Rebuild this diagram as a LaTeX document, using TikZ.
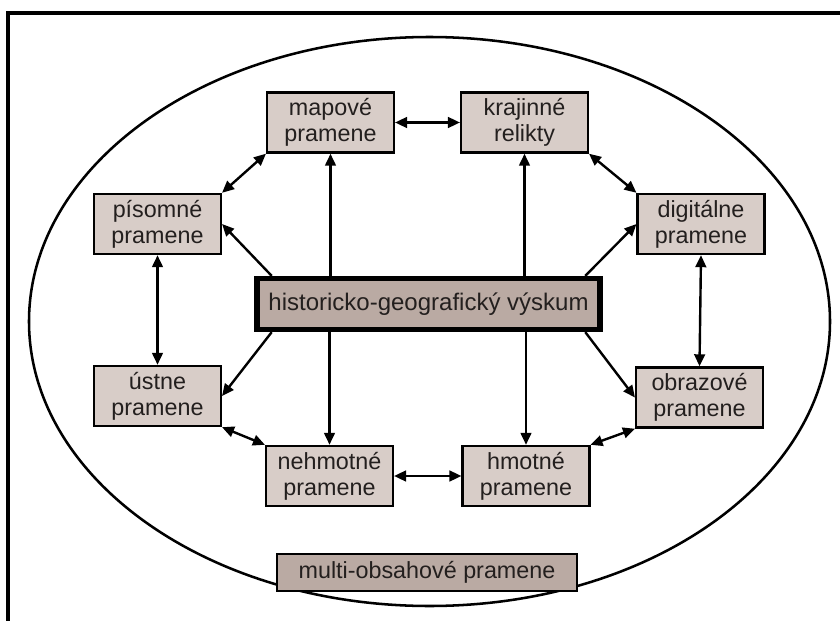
\documentclass[tikz,border=0pt]{standalone}
\usepackage{fontspec}
\setmainfont{Liberation Sans}
\usetikzlibrary{arrows.meta}

\definecolor{zdrojfill}{RGB}{216,205,200}
\definecolor{jadrofill}{RGB}{186,170,163}
\definecolor{textgray}{RGB}{35,31,30}

\tikzset{
  zdroj/.style={draw, line width=1.8pt, fill=zdrojfill, align=center,
    minimum width=95pt, minimum height=45pt, inner sep=0pt,
    font=\fontsize{17.5}{19.5}\selectfont, text=textgray},
  jadro/.style={draw, line width=4.2pt, fill=jadrofill,
    minimum width=257pt, minimum height=38pt, inner sep=0pt,
    font=\fontsize{18}{20}\selectfont, text=textgray},
  obal/.style={draw, line width=1.8pt, fill=jadrofill,
    minimum width=225pt, minimum height=28pt, inner sep=0pt,
    font=\fontsize{17.5}{19.5}\selectfont, text=textgray},
  sip/.style={line width=1.8pt, -{Triangle[length=9pt,width=8pt]}},
  dvojsip/.style={line width=1.8pt, {Triangle[length=9pt,width=8pt]}-{Triangle[length=9pt,width=8pt]}}
}

\begin{document}
\begin{tikzpicture}[x=0.75pt, y=-0.75pt]
        \useasboundingbox (0,0) rectangle (840,621);

        % Ramik a elipsa
        \draw[line width=2.6pt] (8,621) -- (8,13) -- (840,13);
        \draw[line width=1.9pt] (429.5,321.5) ellipse [x radius=400.5, y radius=284.5];

        % Stred
        \node[jadro] (hist) at (428.5,304) {historicko-geografický výskum};

        % Pramene okolo
        \node[zdroj] (map) at (330.5,122.5) {mapové\\pramene};
        \node[zdroj] (kraj) at (524.5,122.5) {krajinné\\relikty};
        \node[zdroj] (pis) at (157.5,224) {písomné\\pramene};
        \node[zdroj] (dig) at (701,224) {digitálne\\pramene};
        \node[zdroj] (ust) at (157.5,396) {ústne\\pramene};
        \node[zdroj] (obr) at (699.5,397.5) {obrazové\\pramene};
        \node[zdroj] (neh) at (329.5,476) {nehmotné\\pramene};
        \node[zdroj] (hmo) at (526,476) {hmotné\\pramene};

        % Spodny ramec
        \node[obal] (multi) at (427,572.5) {multi-obsahové pramene};

        % Sipky zo stredu
        \draw[sip] (hist.north -| map.south) -- (map.south);
        \draw[sip] (hist.north -| kraj.south) -- (kraj.south);
        \draw[sip] (hist.south -| neh.north) -- (neh.north);
        \draw[sip] (hist.south -| hmo.north) -- (hmo.north);
        \draw[sip] ([xshift=13pt]hist.north west) -- (pis.east);
        \draw[sip] ([xshift=-13pt]hist.north east) -- (dig.west);
        \draw[sip] ([xshift=13pt]hist.south west) -- (ust.east);
        \draw[sip] ([xshift=-13pt]hist.south east) -- (obr.west);

        % Obojsmerne vazby
        \draw[dvojsip] (pis.north east) -- (map.south west);
        \draw[dvojsip] (map.east) -- (kraj.west);
        \draw[dvojsip] (kraj.south east) -- (dig.north west);
        \draw[dvojsip] (pis.south) -- (ust.north);
        \draw[dvojsip] (dig.south) -- (obr.north);
        \draw[dvojsip] (ust.south east) -- (neh.north west);
        \draw[dvojsip] (neh.east) -- (hmo.west);
        \draw[dvojsip] (hmo.north east) -- (obr.south west);
\end{tikzpicture}
\end{document}
